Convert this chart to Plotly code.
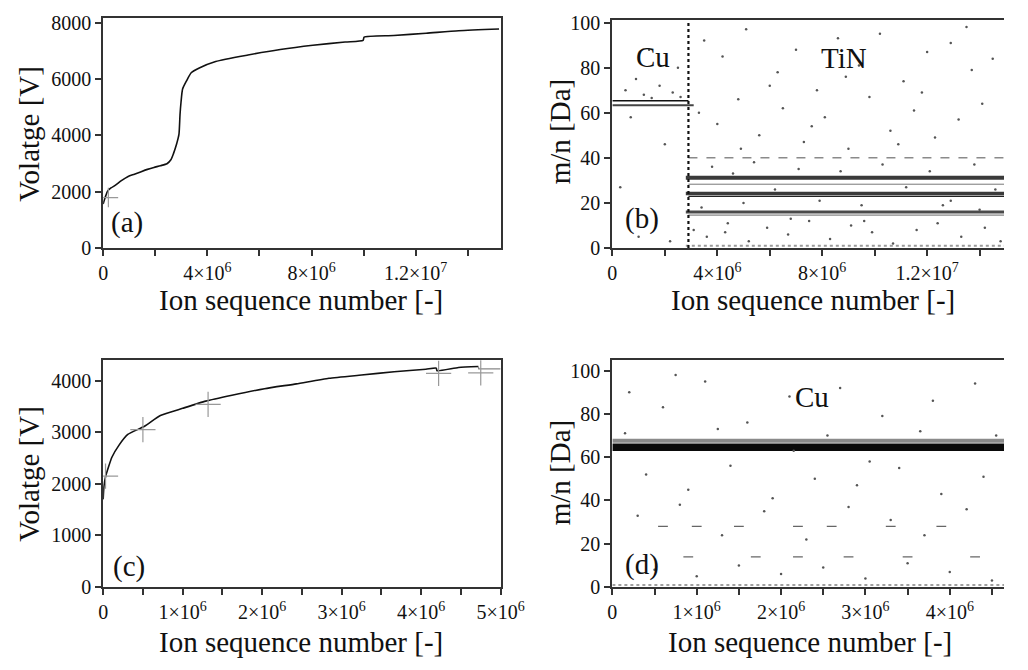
import plotly.graph_objects as go

M = 1e6  # ion sequence values below are in millions

# ---------------- Panel (a): voltage vs ion number (TiN on Cu) ----------------
a_ion = [0, 0.08, 0.17, 0.3, 0.46, 0.7, 0.96, 1.2, 1.46, 1.7, 1.95, 2.2, 2.45, 2.6, 2.70,
         2.82, 2.91, 2.95, 2.99, 3.05, 3.2, 3.38, 3.69, 4.32, 5.56, 6.8, 8.05, 9.29,
         9.98, 10.02, 11.16, 12.4, 13.65, 15.2]
a_volt = [1560, 1800, 2020, 2130, 2220, 2390, 2540, 2620, 2710, 2790, 2860, 2920, 2990,
          3130, 3350, 3690, 4030, 4720, 5180, 5640, 5930, 6220, 6390, 6620, 6850, 7045,
          7195, 7310, 7370, 7480, 7540, 7620, 7710, 7770]
a_cross_ion = [0.2]
a_cross_volt = [1790]

# ---------------- Panel (b): mass spectrum bands (TiN on Cu) ----------------
b_band_mass = [65.3, 63.3, 40.0, 31.2, 28.3, 24.2, 22.9, 16.0, 14.6, 1.0]
b_band_start = [0, 0, 2.9, 2.8, 2.9, 2.8, 2.9, 2.8, 2.9, 2.8]
b_band_end = [2.9, 3.1, 15, 15, 15, 15, 15, 15, 15, 15]
b_interface = 2.9
b_dot_ion = [0.5, 1.2, 1.8, 2.3, 0.9, 2.6, 1.5, 0.3, 1.0, 2.0, 0.7, 2.5, 1.4, 2.2,
             3.5, 4.2, 5.1, 6.3, 7.0, 7.8, 8.6, 9.4, 10.2, 11.1, 12.0, 12.9, 13.7, 14.5,
             3.3, 4.0, 4.8, 5.6, 6.5, 7.3, 8.1, 9.0, 9.8, 10.6, 11.5, 12.3, 13.2, 14.1,
             3.8, 4.6, 5.4, 6.2, 7.1, 7.9, 8.7, 9.5, 10.3, 11.2, 12.1, 12.9, 13.8, 14.6,
             3.1, 3.6, 4.4, 5.2, 5.9, 6.7, 7.5, 8.3, 9.1, 9.9, 10.7, 11.6, 12.4, 13.3, 14.2, 14.8,
             6.0, 8.9, 11.8, 13.5, 4.9, 7.6, 10.9, 3.4, 5.0, 6.8, 9.6, 12.6, 14.0, 4.3]
b_dot_mass = [70, 68, 72, 69, 75, 67, 66.5, 27, 5, 46, 58, 80, 88, 3,
              92, 85, 97, 78, 88, 70, 93, 81, 95, 74, 87, 91, 79, 84,
              60, 55, 66, 50, 62, 47, 58, 44, 67, 52, 61, 49, 57, 64,
              36, 33, 38, 26, 35, 21, 34, 19, 37, 27, 34, 21, 37, 26,
              8, 5, 11, 3, 9, 6, 12, 4, 10, 7, 2, 8, 11, 5, 9, 3,
              72, 76, 69, 98, 44, 54, 46, 18, 20, 13, 12, 19, 17, 7]

# ---------------- Panel (c): voltage vs ion number (Cu) ----------------
c_ion = [0, 0.01, 0.03, 0.11, 0.2, 0.31, 0.52, 0.72, 1.0, 1.29, 1.62, 2.03, 2.43,
         2.84, 3.25, 3.66, 4.06, 4.19, 4.2, 4.47, 4.72]
c_volt = [1700, 1950, 2136, 2515, 2750, 2957, 3115, 3324, 3463, 3602, 3716, 3843, 3937,
          4044, 4108, 4171, 4221, 4240, 4190, 4253, 4272]
c_tail_ion = [4.72, 4.725, 5.0]
c_tail_volt = [4272, 4227, 4227]
c_cross_ion = [0.03, 0.5, 1.32, 4.22, 4.75]
c_cross_volt = [2150, 3050, 3540, 4140, 4150]

# ---------------- Panel (d): mass spectrum (Cu) ----------------
d_band_mass = [64.6, 67.6, 1.0]
d_band_start = [0, 0, 0]
d_band_end = [5, 5, 5]
d_dot_ion = [0.2, 0.6, 1.1, 1.6, 2.1, 2.7, 3.2, 3.8, 4.3,
             0.4, 0.9, 1.4, 1.9, 2.4, 2.9, 3.4, 3.9, 4.4,
             0.3, 0.8, 1.3, 1.8, 2.3, 2.8, 3.3, 3.7, 4.2,
             0.5, 1.0, 1.5, 2.0, 2.5, 3.0, 3.5, 4.0, 4.5,
             0.15, 1.25, 2.55, 3.65, 4.55, 0.75, 2.15, 3.05]
d_dot_mass = [90, 83, 95, 76, 88, 92, 79, 86, 94,
              52, 45, 56, 41, 50, 47, 55, 43, 51,
              33, 38, 24, 35, 22, 37, 31, 24, 36,
              8, 5, 10, 6, 9, 4, 11, 7, 3,
              71, 73, 70, 72, 70, 98, 63, 58]
d_dash_ion = [0.6, 1.0, 1.5, 2.2, 2.6, 3.3, 3.9, 0.9, 2.2, 2.8, 3.5, 4.3, 1.7]
d_dash_mass = [28, 28, 28, 28, 28, 28, 28, 14, 14, 14, 14, 14, 14]

# ---------------- tick values / labels ----------------
big_major = [0, 4, 8, 12]
big_major_text = ["0", "4×10<sup>6</sup>", "8×10<sup>6</sup>", "1.2×10<sup>7</sup>"]
big_minor = [2, 6, 10, 14]
small_major = [0, 1, 2, 3, 4, 5]
small_major_text = ["0", "1×10<sup>6</sup>", "2×10<sup>6</sup>", "3×10<sup>6</sup>",
                    "4×10<sup>6</sup>", "5×10<sup>6</sup>"]
small_minor = [0.5, 1.5, 2.5, 3.5, 4.5]

# ---------------- styles ----------------
FONT = "'Liberation Serif', 'Times New Roman', 'DejaVu Serif', serif"
INK = "#111111"
AXC = "#333333"
b_band_color = ["#111111", "#444444", "#8a8a8a", "#3a3a3a", "#777777",
                "#3a3a3a", "#222222", "#4a4a4a", "#666666", "#9a9a9a"]
b_band_width = [1.5, 2.0, 1.5, 4.0, 1.0, 3.5, 1.2, 3.0, 1.0, 2.0]
b_band_dash = ["solid", "solid", "dash", "solid", "solid", "solid", "solid",
               "solid", "solid", "dot"]
d_band_color = ["#0a0a0a", "#8a8a8a", "#a0a0a0"]
d_band_width = [7.5, 4.0, 2.0]
d_band_dash = ["solid", "solid", "dot"]

W, H = 1028, 670


def px(x):
    return x / W


def py(y):
    return 1 - y / H


fig = go.Figure()

# (a)
fig.add_trace(go.Scatter(x=[v * M for v in a_ion], y=a_volt, mode="lines",
                         line=dict(color="#111111", width=1.6, shape="spline", smoothing=0.6),
                         xaxis="x", yaxis="y"))
fig.add_trace(go.Scatter(x=[v * M for v in a_cross_ion], y=a_cross_volt, mode="markers",
                         marker=dict(symbol="cross-thin", size=14,
                                     line=dict(color="#999999", width=1.2)),
                         xaxis="x", yaxis="y"))

# (b)
for m, s, e, c, w, d in zip(b_band_mass, b_band_start, b_band_end,
                            b_band_color, b_band_width, b_band_dash):
    fig.add_trace(go.Scatter(x=[s * M, e * M], y=[m, m], mode="lines",
                             line=dict(color=c, width=w, dash=d), xaxis="x2", yaxis="y2"))
fig.add_trace(go.Scatter(x=[v * M for v in b_dot_ion], y=b_dot_mass, mode="markers",
                         marker=dict(size=2.5, color="#555555"), xaxis="x2", yaxis="y2"))
fig.add_trace(go.Scatter(x=[b_interface * M, b_interface * M], y=[0, 101.3], mode="lines",
                         line=dict(color="#111111", width=2.2, dash="dot"),
                         xaxis="x2", yaxis="y2"))

# (c)
fig.add_trace(go.Scatter(x=[v * M for v in c_ion], y=c_volt, mode="lines",
                         line=dict(color="#111111", width=1.6, shape="spline", smoothing=0.5),
                         xaxis="x3", yaxis="y3"))
fig.add_trace(go.Scatter(x=[v * M for v in c_tail_ion], y=c_tail_volt, mode="lines",
                         line=dict(color="#888888", width=1.3), xaxis="x3", yaxis="y3"))
fig.add_trace(go.Scatter(x=[v * M for v in c_cross_ion], y=c_cross_volt, mode="markers",
                         marker=dict(symbol="cross-thin", size=18,
                                     line=dict(color="#999999", width=1.2)),
                         xaxis="x3", yaxis="y3"))

# (d)
for m, s, e, c, w, d in zip(d_band_mass, d_band_start, d_band_end,
                            d_band_color, d_band_width, d_band_dash):
    fig.add_trace(go.Scatter(x=[s * M, e * M], y=[m, m], mode="lines",
                             line=dict(color=c, width=w, dash=d), xaxis="x4", yaxis="y4"))
fig.add_trace(go.Scatter(x=[v * M for v in d_dot_ion], y=d_dot_mass, mode="markers",
                         marker=dict(size=2.5, color="#555555"), xaxis="x4", yaxis="y4"))
fig.add_trace(go.Scatter(x=[v * M for v in d_dash_ion], y=d_dash_mass, mode="markers",
                         marker=dict(symbol="line-ew", size=7,
                                     line=dict(color="#666666", width=1.2)),
                         xaxis="x4", yaxis="y4"))


ax_common = dict(showline=True, linecolor=AXC, linewidth=2, ticks="outside",
                 ticklen=6, tickwidth=2, tickcolor=AXC, showgrid=False, zeroline=False,
                 tickfont=dict(family=FONT, size=20, color=INK))


def xticks(major, text, minor):
    return dict(tickmode="array", tickvals=[v * M for v in major], ticktext=text,
                minor=dict(tickmode="array", tickvals=[v * M for v in minor],
                           ticks="outside", ticklen=6, tickwidth=2, tickcolor=AXC,
                           showgrid=False))


fig.update_layout(
    width=W, height=H, margin=dict(l=0, r=0, t=0, b=0),
    paper_bgcolor="white", plot_bgcolor="white", showlegend=False,
    font=dict(family=FONT, color=INK),
    xaxis=dict(ax_common, domain=[px(101), px(510)], range=[0, 15.26e6], anchor="y",
               mirror=True, **xticks(big_major, big_major_text, big_minor)),
    yaxis=dict(ax_common, domain=[py(247), py(10)], range=[0, 8172], anchor="x",
               mirror=True, tickmode="array", tickvals=[0, 2000, 4000, 6000, 8000]),
    xaxis2=dict(ax_common, domain=[px(625), 1.0], range=[0, 14.93e6], anchor="y2",
                mirror=True, **xticks(big_major, big_major_text, big_minor)),
    yaxis2=dict(ax_common, domain=[py(247), py(12)], range=[0, 101.3], anchor="x2",
                mirror=False, tickmode="array", tickvals=[0, 20, 40, 60, 80, 100]),
    xaxis3=dict(ax_common, domain=[px(101), px(510)], range=[0, 5e6], anchor="y3",
                mirror=True, **xticks(small_major, small_major_text, small_minor)),
    yaxis3=dict(ax_common, domain=[py(596), py(362)], range=[0, 4404], anchor="x3",
                mirror=True, tickmode="array", tickvals=[0, 1000, 2000, 3000, 4000]),
    xaxis4=dict(ax_common, domain=[px(625), 1.0], range=[0, 4.643e6], anchor="y4",
                mirror=True, **xticks(small_major[:-1], small_major_text[:-1], small_minor)),
    yaxis4=dict(ax_common, domain=[py(596), py(362)], range=[0, 105], anchor="x4",
                mirror=False, tickmode="array", tickvals=[0, 20, 40, 60, 80, 100]),
)

title_font = dict(family=FONT, size=29, color=INK)
ann = []
# axis titles
for (x, y, t, ang) in [(305, 301, "Ion sequence number [-]", 0),
                       (831, 301, "Ion sequence number [-]", 0),
                       (305, 653, "Ion sequence number [-]", 0),
                       (828, 652, "Ion sequence number [-]", 0),
                       (25, 129, "Volatge [V]", -90),
                       (25, 479, "Volatge [V]", -90),
                       (572, 127, "m/n [Da]", -90),
                       (572, 478, "m/n [Da]", -90)]:
    ann.append(dict(x=px(x), y=py(y), xref="paper", yref="paper", text=t, showarrow=False,
                    textangle=ang, font=title_font, xanchor="center", yanchor="middle"))
# panel labels and phase labels
for (x, y, t) in [(126, 221, "(a)"), (655, 217, "(b)"), (128, 575, "(c)"), (655, 573, "(d)"),
                  (667, 50, "Cu"), (863, 51, "TiN"), (830, 400, "Cu")]:
    ann.append(dict(x=px(x), y=py(y), xref="paper", yref="paper", text=t, showarrow=False,
                    font=title_font, xanchor="center", yanchor="middle"))
fig.update_layout(annotations=ann)

fig.write_html("out.html")
